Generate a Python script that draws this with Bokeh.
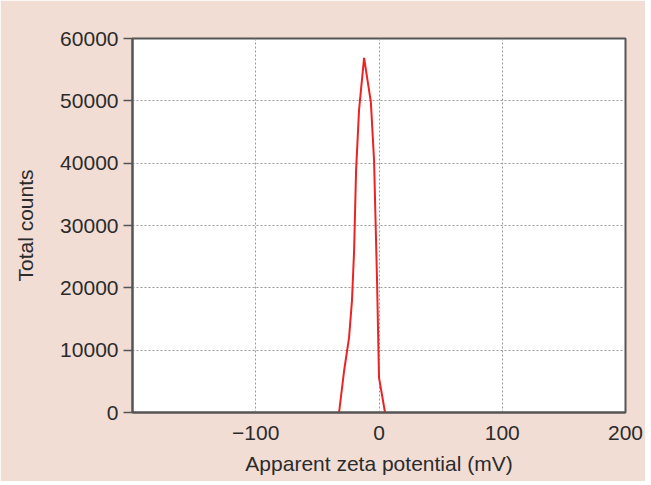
from bokeh.plotting import figure
from bokeh.embed import file_html
from bokeh.resources import INLINE
from bokeh.models import FixedTicker, Range1d

# Data
zeta_mv = [-32.4, -28.3, -24.3, -21.9, -20.2, -18.6, -16.2, -12.1, -6.6, -4.0, -1.6, 0.0, 4.9]
counts = [0, 6700, 12000, 18000, 26000, 38800, 48500, 56900, 49800, 40400, 21200, 5600, 0]

x_ticks = [-100, 0, 100, 200]
y_ticks = [0, 10000, 20000, 30000, 40000, 50000, 60000]

FONT = "Liberation Sans"
TXT = "#2b2b2b"

p = figure(width=645, height=481, output_backend="svg", toolbar_location=None,
           x_range=Range1d(-200, 200), y_range=Range1d(0, 60000),
           min_border_left=132, min_border_top=38, min_border_right=20, min_border_bottom=69)

p.border_fill_color = "#f2ddd5"
p.background_fill_color = "white"
p.outline_line_color = "#555555"
p.outline_line_width = 2
p.outline_line_alpha = 1.0

p.line(zeta_mv, counts, line_color="#ee2222", line_width=2)

# axes
p.xaxis.ticker = FixedTicker(ticks=x_ticks)
p.yaxis.ticker = FixedTicker(ticks=y_ticks)
p.xaxis.major_label_overrides = {-100: "\u2212100"}

for ax in (p.xaxis[0], p.yaxis[0]):
    ax.axis_line_color = "#555555"
    ax.axis_line_width = 2
    ax.major_tick_line_color = "#555555"
    ax.major_tick_line_width = 1.5
    ax.minor_tick_line_color = None
    ax.major_label_text_font = FONT
    ax.major_label_text_font_size = "21px"
    ax.major_label_text_color = TXT
    ax.axis_label_text_font = FONT
    ax.axis_label_text_font_size = "21px"
    ax.axis_label_text_font_style = "normal"
    ax.axis_label_text_color = TXT

p.xaxis.axis_label = "Apparent zeta potential (mV)"
p.xaxis.major_tick_out = 0
p.xaxis.major_tick_in = 0
p.xaxis.major_label_standoff = 13
p.xaxis.axis_label_standoff = 9

p.yaxis.axis_label = "Total counts"
p.yaxis.major_tick_out = 9
p.yaxis.major_tick_in = 0
p.yaxis.major_label_standoff = 5
p.yaxis.axis_label_standoff = 20

# grid
for g in (p.xgrid[0], p.ygrid[0]):
    g.grid_line_color = "#999999"
    g.grid_line_dash = "2 2"
    g.grid_line_width = 1

open("out.html", "w").write(file_html(p, INLINE))
